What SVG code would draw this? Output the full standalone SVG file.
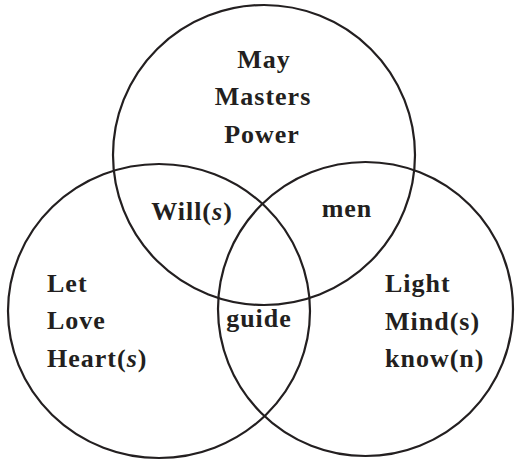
<svg xmlns="http://www.w3.org/2000/svg" width="515" height="464" viewBox="0 0 515 464">
<style>
.c{fill:none;stroke:#231f20;stroke-width:2.2}
.t{font-family:"Liberation Serif",serif;font-weight:bold;font-size:26px;fill:#231f20;letter-spacing:1px}
.m{text-anchor:middle}
.i{font-style:italic}
</style>
<rect width="515" height="464" fill="#fff"/>
<g id="circles">
<ellipse id="top" class="c" cx="264" cy="155" rx="151" ry="150"/>
<ellipse id="left" class="c" cx="159" cy="311" rx="151" ry="147"/>
<ellipse id="right" class="c" cx="365.5" cy="309" rx="147.5" ry="147"/>
</g>
<g id="top-labels">
<text class="t m" x="264" y="68">May</text>
<text class="t m" x="263" y="105">Masters</text>
<text class="t m" x="262" y="143">Power</text>
</g>
<g id="will"><text class="t m" x="192" y="220">Will(<tspan class="i">s</tspan>)</text></g>
<g id="men"><text class="t m" x="347" y="217">men</text></g>
<g id="guide"><text class="t m" x="259" y="327">guide</text></g>
<g id="left-labels">
<text class="t" x="47" y="292">Let</text>
<text class="t" x="47" y="329">Love</text>
<text class="t" x="47" y="367">Heart(<tspan class="i">s</tspan>)</text>
</g>
<g id="right-labels">
<text class="t" x="385" y="292">Light</text>
<text class="t" x="385" y="330">Mind(s)</text>
<text class="t" x="385" y="367">know(n)</text>
</g>
</svg>
